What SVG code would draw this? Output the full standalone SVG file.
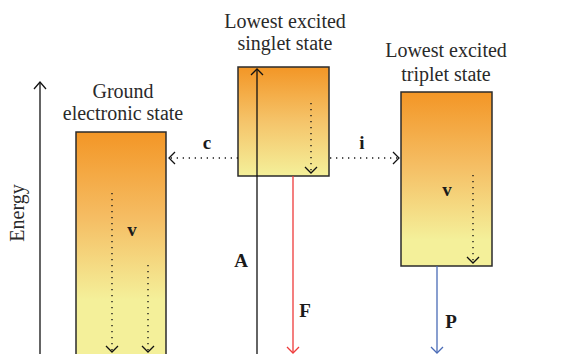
<svg xmlns="http://www.w3.org/2000/svg" width="561" height="354" viewBox="0 0 561 354">
<style>
.t{font-family:"Liberation Serif","Times New Roman",serif;font-size:20px;fill:#2a2a2a;text-anchor:middle}
.b{font-family:"Liberation Serif","Times New Roman",serif;font-size:19px;font-weight:bold;fill:#1a1a1a;text-anchor:middle}
.box{stroke:#2b2b2b;stroke-width:1.5}
.dot{fill:none;stroke:#1a1a1a;stroke-width:1.4;stroke-dasharray:1.3 4.7}
.ln{fill:none;stroke-width:1.3}
.hd{fill:none;stroke-width:1.3}
</style>
<defs>
<linearGradient id="gG" gradientUnits="userSpaceOnUse" x1="0" y1="132" x2="0" y2="300">
<stop offset="0" stop-color="#F39626"/><stop offset="0.5" stop-color="#F5BC62"/><stop offset="1" stop-color="#F4F09A"/>
</linearGradient>
<linearGradient id="gS" gradientUnits="userSpaceOnUse" x1="0" y1="67" x2="0" y2="176">
<stop offset="0" stop-color="#F39626"/><stop offset="0.5" stop-color="#F5C46A"/><stop offset="1" stop-color="#F4F09A"/>
</linearGradient>
<linearGradient id="gT" gradientUnits="userSpaceOnUse" x1="0" y1="92" x2="0" y2="240">
<stop offset="0" stop-color="#F39626"/><stop offset="0.5" stop-color="#F5BE64"/><stop offset="1" stop-color="#F4F09A"/>
</linearGradient>
</defs>

<g id="energy-axis">
<line x1="40" y1="82" x2="40" y2="354" class="ln" stroke="#111"/>
<polyline points="34,89 40,82 46,89" class="hd" stroke="#111"/>
<text class="t" transform="translate(24,213) rotate(-90)">Energy</text>
</g>

<g id="ground">
<rect x="76" y="132" width="90" height="240" fill="url(#gG)" class="box"/>
<text class="t" x="123" y="98">Ground</text>
<text class="t" x="123" y="120">electronic state</text>
<text class="b" x="132" y="236">v</text>
</g>

<g id="singlet">
<rect x="238" y="67" width="91" height="109" fill="url(#gS)" class="box"/>
<text class="t" x="285" y="28">Lowest excited</text>
<text class="t" x="285" y="50">singlet state</text>
</g>

<g id="triplet">
<rect x="401" y="92" width="91" height="174" fill="url(#gT)" class="box"/>
<text class="t" x="446" y="57">Lowest excited</text>
<text class="t" x="446" y="81">triplet state</text>
<text class="b" x="447" y="196">v</text>
</g>

<g id="connectors">
<line x1="257" y1="69" x2="257" y2="354" class="ln" stroke="#111"/>
<polyline points="251,75 257,69 263,75" class="hd" stroke="#111"/>
<text class="b" x="241" y="267">A</text>
<line x1="293" y1="176" x2="293" y2="353" class="ln" stroke="#EE3A3A"/>
<polyline points="287,347 293,353 299,347" class="hd" stroke="#EE3A3A"/>
<text class="b" x="305" y="317">F</text>
<line x1="437" y1="266" x2="437" y2="353" class="ln" stroke="#4A6BB6"/>
<polyline points="431,347 437,353 443,347" class="hd" stroke="#4A6BB6"/>
<text class="b" x="451" y="328">P</text>
<line x1="238" y1="158" x2="170" y2="158" class="dot"/>
<polyline points="175,152 169,158 175,164" class="hd" stroke="#111"/>
<text class="b" x="207" y="149">c</text>
<line x1="330" y1="158" x2="399" y2="158" class="dot"/>
<polyline points="393,152 399,158 393,164" class="hd" stroke="#111"/>
<text class="b" x="362" y="149">i</text>
<line x1="311" y1="103" x2="311" y2="172" class="dot"/>
<polyline points="305,167 311,173 317,167" class="hd" stroke="#111"/>
<line x1="473" y1="175" x2="473" y2="262" class="dot"/>
<polyline points="467,257 473,263 479,257" class="hd" stroke="#111"/>
<line x1="112" y1="193" x2="112" y2="351" class="dot"/>
<polyline points="106,346 112,352 118,346" class="hd" stroke="#111"/>
<line x1="148" y1="265" x2="148" y2="351" class="dot"/>
<polyline points="142,346 148,352 154,346" class="hd" stroke="#111"/>
</g>
</svg>
